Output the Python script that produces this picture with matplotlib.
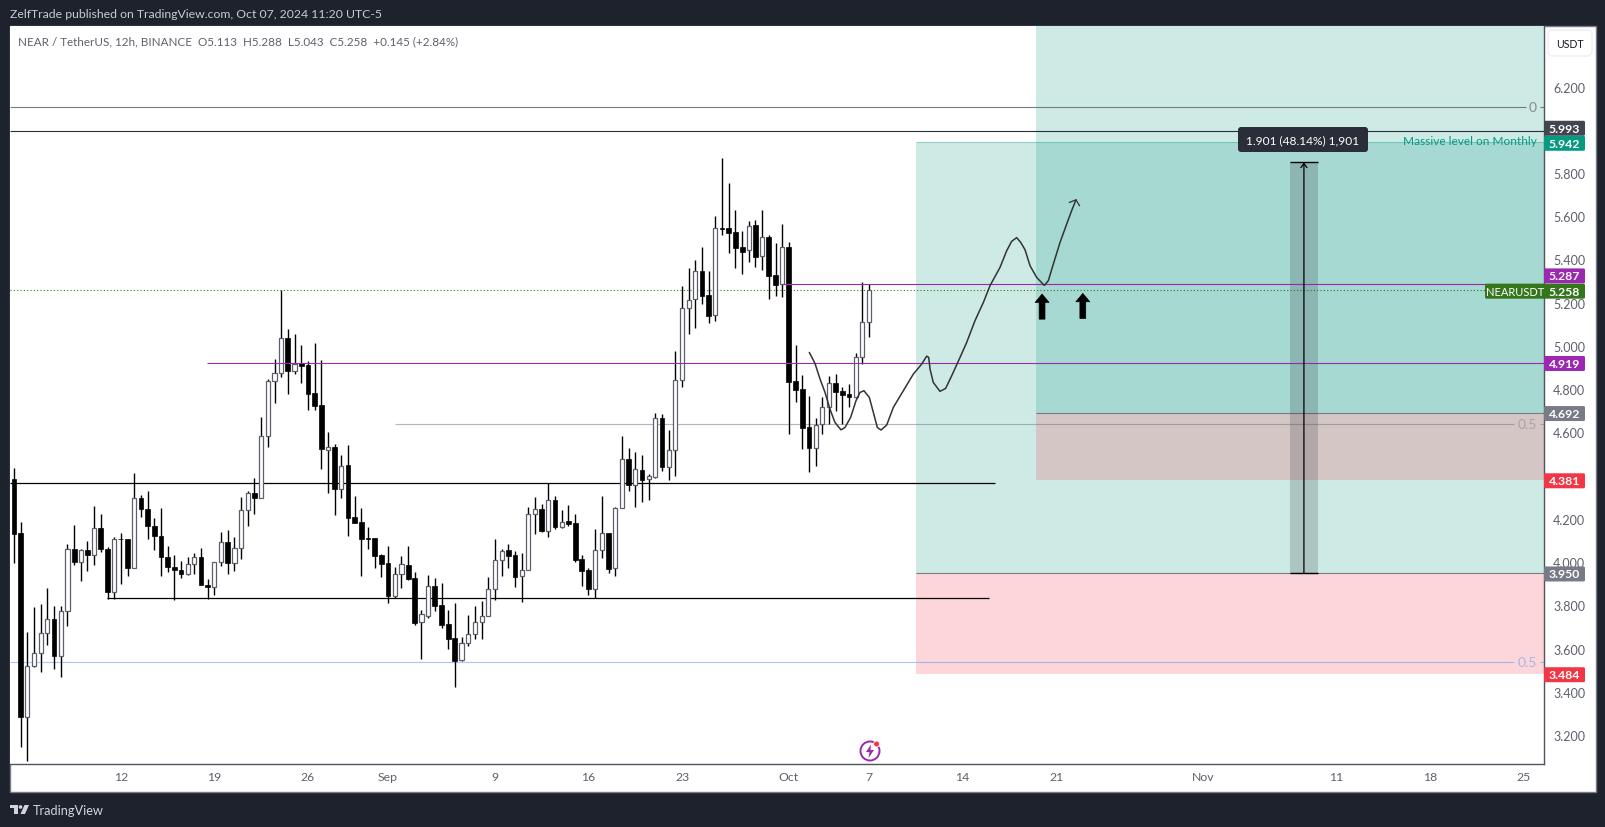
"""NEAR/USDT 12h candles with position boxes and levels, TradingView look."""
import matplotlib
matplotlib.use("Agg")
import matplotlib.pyplot as plt
from matplotlib.patches import Rectangle, FancyBboxPatch, Ellipse, Polygon

plt.rcParams["font.family"] = ["Lato", "DejaVu Sans"]

# 12h bars, first bar = Aug 4 00:00, last = Oct 7 00:00
OPENS = [4.386, 4.133, 3.285, 3.521, 3.578, 3.674, 3.735, 3.567, 3.773, 4.063, 4.003, 4.054, 4.035, 4.160, 4.063, 3.863,
         4.109, 4.107, 3.971, 4.299, 4.248, 4.169, 4.122, 4.025, 3.978, 3.963, 3.946, 3.990, 4.022, 3.895, 3.886, 3.999,
         4.092, 3.997, 4.067, 4.243, 4.322, 4.297, 4.584, 4.836, 4.873, 5.037, 4.886, 4.921, 4.912, 4.781, 4.727, 4.520,
         4.531, 4.340, 4.449, 4.207, 4.184, 4.110, 4.111, 4.033, 3.994, 3.845, 3.943, 3.985, 3.925, 3.724, 3.752, 3.888,
         3.801, 3.712, 3.647, 3.547, 3.624, 3.666, 3.724, 3.752, 3.874, 4.011, 4.054, 4.031, 3.937, 3.965, 4.221, 4.244,
         4.145, 4.286, 4.164, 4.190, 4.181, 4.013, 3.963, 3.877, 4.054, 4.135, 3.971, 4.249, 4.475, 4.358, 4.424, 4.383,
         4.395, 4.665, 4.441, 4.520, 4.841, 5.174, 5.215, 5.345, 5.234, 5.141, 5.544, 5.544, 5.525, 5.456, 5.442, 5.558,
         5.414, 5.502, 5.328, 5.285, 5.460, 4.836, 4.799, 4.623, 4.529, 4.639, 4.716, 4.827, 4.790, 4.777, 4.765, 4.947,
         5.113]
HIGHS = [4.437, 4.188, 3.676, 3.791, 3.807, 3.880, 3.799, 3.795, 4.086, 4.171, 4.063, 4.097, 4.260, 4.222, 4.069, 4.116,
         4.135, 4.109, 4.412, 4.309, 4.329, 4.203, 4.250, 4.075, 4.032, 4.005, 4.023, 4.042, 4.065, 3.922, 4.003, 4.139,
         4.148, 4.116, 4.301, 4.327, 4.388, 4.671, 4.849, 4.938, 5.258, 5.079, 5.054, 5.004, 4.929, 5.013, 4.935, 4.600,
         4.546, 4.495, 4.542, 4.306, 4.250, 4.162, 4.114, 4.037, 4.074, 3.977, 4.028, 4.074, 3.953, 3.777, 3.940, 3.925,
         3.903, 3.777, 3.811, 3.652, 3.754, 3.795, 3.820, 3.931, 4.107, 4.060, 4.082, 4.050, 4.042, 4.253, 4.301, 4.269,
         4.364, 4.306, 4.241, 4.264, 4.222, 4.033, 3.973, 4.153, 4.304, 4.135, 4.253, 4.582, 4.528, 4.509, 4.494, 4.406,
         4.688, 4.683, 4.611, 4.975, 5.277, 5.359, 5.396, 5.456, 5.345, 5.599, 5.869, 5.753, 5.629, 5.534, 5.576, 5.582,
         5.629, 5.511, 5.476, 5.564, 5.481, 5.004, 4.864, 4.768, 4.665, 4.762, 4.859, 4.868, 4.810, 4.822, 4.966, 5.294,
         5.288]
LOWS = [3.994, 3.144, 3.078, 3.516, 3.493, 3.616, 3.508, 3.470, 3.707, 3.988, 3.914, 3.961, 3.988, 4.046, 3.831, 3.831,
        3.899, 3.937, 3.971, 4.210, 4.109, 4.054, 3.937, 3.956, 3.827, 3.927, 3.942, 3.946, 3.895, 3.831, 3.850, 3.984,
        3.946, 3.961, 4.016, 4.169, 4.224, 4.301, 4.534, 4.737, 4.858, 4.779, 4.871, 4.828, 4.705, 4.705, 4.431, 4.321,
        4.219, 4.296, 4.121, 4.181, 3.937, 4.060, 3.974, 3.933, 3.812, 3.834, 3.882, 3.919, 3.710, 3.553, 3.743, 3.774,
        3.697, 3.599, 3.424, 3.544, 3.612, 3.644, 3.644, 3.752, 3.825, 3.937, 3.974, 3.886, 3.817, 3.965, 4.131, 4.141,
        4.118, 4.155, 4.158, 4.168, 4.002, 3.889, 3.848, 3.832, 4.019, 3.950, 3.937, 4.249, 4.331, 4.256, 4.279, 4.289,
        4.387, 4.423, 4.381, 4.400, 4.810, 5.055, 5.083, 5.194, 5.107, 5.115, 5.514, 5.430, 5.360, 5.332, 5.388, 5.365,
        5.351, 5.217, 5.231, 5.226, 4.592, 4.740, 4.523, 4.418, 4.444, 4.592, 4.639, 4.699, 4.639, 4.717, 4.760, 4.915,
        5.043]
CLOSES = [4.131, 3.285, 3.521, 3.578, 3.674, 3.735, 3.567, 3.773, 4.063, 4.003, 4.054, 4.035, 4.160, 4.063, 3.863, 4.109,
          4.107, 3.971, 4.299, 4.248, 4.169, 4.122, 4.025, 3.978, 3.963, 3.946, 3.990, 4.022, 3.895, 3.886, 3.999, 4.092,
          3.997, 4.067, 4.243, 4.322, 4.297, 4.584, 4.836, 4.873, 5.037, 4.886, 4.915, 4.909, 4.779, 4.724, 4.525, 4.531,
          4.340, 4.447, 4.205, 4.182, 4.108, 4.108, 4.030, 3.993, 3.845, 3.943, 3.990, 3.922, 3.720, 3.758, 3.888, 3.798,
          3.710, 3.646, 3.544, 3.624, 3.666, 3.724, 3.752, 3.874, 4.011, 4.053, 4.030, 3.933, 3.965, 4.221, 4.244, 4.145,
          4.286, 4.162, 4.188, 4.178, 4.010, 3.960, 3.877, 4.054, 4.133, 3.968, 4.249, 4.475, 4.358, 4.429, 4.381, 4.397,
          4.665, 4.441, 4.520, 4.841, 5.174, 5.211, 5.345, 5.232, 5.140, 5.544, 5.543, 5.524, 5.454, 5.436, 5.556, 5.413,
          5.502, 5.325, 5.283, 5.460, 4.834, 4.797, 4.622, 4.529, 4.636, 4.716, 4.827, 4.788, 4.773, 4.764, 4.947, 5.109,
          5.258]

# hand drawn projection (bar index, price)
PATH_X = [119.06, 119.91, 120.66, 121.41, 122.15, 122.90, 123.80, 124.40, 125.25, 126.05, 126.65, 127.24, 128.04, 128.64,
          129.24, 129.79, 130.64, 131.64, 133.13, 134.63, 135.88, 136.63, 136.93, 137.13, 137.62, 138.62, 139.47, 140.37,
          141.62, 142.61, 143.86, 145.11, 146.11, 147.60, 148.60, 149.35, 150.10, 150.70, 151.35, 152.10, 153.09, 154.24,
          154.84, 155.59, 156.59, 157.59, 158.33, 158.98]
PATH_Y = [4.970, 4.919, 4.847, 4.785, 4.708, 4.646, 4.612, 4.623, 4.670, 4.747, 4.785, 4.793, 4.762, 4.693,
          4.623, 4.611, 4.634, 4.716, 4.793, 4.870, 4.916, 4.953, 4.947, 4.893, 4.831, 4.790, 4.804, 4.862,
          4.947, 5.016, 5.117, 5.201, 5.279, 5.363, 5.440, 5.484, 5.501, 5.479, 5.445, 5.371, 5.317, 5.280,
          5.302, 5.379, 5.479, 5.564, 5.626, 5.676]

TICK_BARS = [16, 30, 44, 56, 72, 86, 100, 116, 128, 142, 156, 178, 198, 212, 226]
TICK_LABELS = ["12", "19", "26", "Sep", "9", "16", "23", "Oct", "7", "14", "21", "Nov", "11", "18", "25"]
PRICE_TICKS = [3.2, 3.4, 3.6, 3.8, 4.0, 4.2, 4.6, 4.8, 5.0, 5.2, 5.4, 5.6, 5.8, 6.2]

# price tags: value, colour, shift in px where TradingView stacks them
TAG_PRICES = [5.993, 5.942, 5.287, 5.258, 4.919, 4.692, 4.381, 3.950, 3.484]
TAG_COLORS = ["#434651", "#089981", "#9c27b0", "#33761c", "#9c27b0", "#787b86", "#f23645", "#787b86", "#f23645"]
TAG_SHIFT = [-3, 1, -8, 1, 0, 1, 1, 1, 1]

W, H = 1606, 828
DARK = "#1e222d"
GREEN = "#089981"
RED = "#f23645"
AXIS_TXT = "#5d606b"

fig = plt.figure(figsize=(W / 100, H / 100), dpi=100, facecolor=DARK)


def pixel_axes(zorder):
    a = fig.add_axes([0, 0, 1, 1], zorder=zorder)
    a.set_xlim(0, W); a.set_ylim(H, 0); a.axis("off")
    a.patch.set_alpha(0)
    return a


bg = pixel_axes(-1)
bg.add_patch(Rectangle((10, 27), 1586, 766, fc="white", ec="#787b86", lw=1))

ax = fig.add_axes([10 / W, 1 - 765 / H, 1534 / W, 738 / H], zorder=1)
ax.set_xlim(-0.6, 229.04)
ax.set_ylim(3.0664, 6.4799)
for s in ["top", "left"]:
    ax.spines[s].set_visible(False)
for s in ["right", "bottom"]:
    ax.spines[s].set_color("#50535e"); ax.spines[s].set_linewidth(1)
ax.yaxis.tick_right()
ax.set_yticks(PRICE_TICKS, [f"{p:.3f}" for p in PRICE_TICKS])
ax.set_xticks(TICK_BARS, TICK_LABELS)
ax.tick_params(axis="y", length=0, pad=6.5, labelsize=9, labelcolor=AXIS_TXT)
ax.tick_params(axis="x", length=0, pad=5, labelsize=8.8, labelcolor=AXIS_TXT)

# position boxes
ax.add_patch(Rectangle((135, 3.95), 110, 5.942 - 3.95, fc=GREEN, alpha=0.2, ec="none", zorder=1))
ax.add_patch(Rectangle((135, 3.484), 110, 3.95 - 3.484, fc=RED, alpha=0.2, ec="none", zorder=1))
ax.add_patch(Rectangle((153, 4.692), 92, 2.5, fc=GREEN, alpha=0.2, ec="none", zorder=1))
ax.add_patch(Rectangle((153, 4.381), 92, 4.692 - 4.381, fc=RED, alpha=0.2, ec="none", zorder=1))
ax.hlines(5.942, 135, 229, color=GREEN, lw=0.8, alpha=0.3, zorder=2)
ax.hlines(3.95, 135, 229, color="#787b86", lw=0.8, zorder=2)
ax.hlines(4.692, 153, 229, color="#787b86", lw=0.8, zorder=2)

# fib levels
ax.hlines(6.104, -0.6, 226.3, color="#787b86", lw=0.8, zorder=2)
ax.hlines(6.104, 228.4, 229, color="#787b86", lw=0.8, zorder=2)
ax.text(227.35, 6.104, "0", color="#787b86", fontsize=10, ha="center", va="center", alpha=0.85)
ax.hlines(4.639, 57, 224.6, color="#787b86", lw=0.8, alpha=0.55, zorder=2)
ax.hlines(4.639, 228.4, 229, color="#787b86", lw=0.8, alpha=0.55, zorder=2)
ax.text(226.5, 4.639, "0.5", color="#787b86", fontsize=10, ha="center", va="center", alpha=0.45)
ax.hlines(3.538, -0.6, 224.6, color="#5b9cf6", lw=0.8, alpha=0.55, zorder=2)
ax.hlines(3.538, 228.4, 229, color="#5b9cf6", lw=0.8, alpha=0.55, zorder=2)
ax.text(226.5, 3.538, "0.5", color="#5b9cf6", fontsize=10, ha="center", va="center", alpha=0.55)

# levels
ax.hlines(5.993, -0.6, 229, color="#2a2e39", lw=0.8, zorder=2)
ax.hlines(4.364, -0.6, 146.9, color="black", lw=0.9, zorder=2)
ax.hlines(3.833, 13.9, 146, color="black", lw=0.9, zorder=2)
ax.hlines(4.919, 28.85, 229, color="#9c27b0", lw=0.8, zorder=4)
ax.hlines(5.287, 114.9, 229, color="#9c27b0", lw=0.8, zorder=4)
ax.hlines(5.258, -0.6, 229, color="#33761c", lw=0.8, ls=(0, (1, 2)), zorder=2)
ax.text(228, 5.95, "Massive level on Monthly", color=GREEN, fontsize=8.6, ha="right", va="center")

# candles
for i, (o, h, l, c) in enumerate(zip(OPENS, HIGHS, LOWS, CLOSES)):
    ax.vlines(i, l, h, color="black", lw=1, zorder=3)
    if c >= o:
        ax.bar(i, c - o, 0.62, o, color="white", edgecolor="#5d606b", lw=0.9, zorder=3.2)
    else:
        ax.bar(i, o - c, 0.72, c, color="black", edgecolor="black", lw=0.5, zorder=3.2)

# hand drawn path with arrow head
ax.plot(PATH_X, PATH_Y, color="#333333", lw=1.1, solid_capstyle="round", zorder=5)
ax.plot([158.0, PATH_X[-1], 159.5], [5.664, PATH_Y[-1], 5.649], color="#333333", lw=0.9, zorder=5)

# two thick up arrows
for bar, base, tip in [(153.9, 5.124, 5.240), (160.0, 5.127, 5.243)]:
    ax.annotate("", xy=(bar, tip), xytext=(bar, base), zorder=5,
                arrowprops=dict(arrowstyle="simple,head_length=0.6,head_width=1.0,tail_width=0.42",
                                fc="black", ec="black", lw=0.5, shrinkA=0, shrinkB=0))

# price range ruler
ax.add_patch(Rectangle((191, 3.95), 4.2, 5.849 - 3.95, fc="#2a2e39", alpha=0.2, ec="none", zorder=3))
ax.hlines([3.95, 5.849], 191, 195.2, color="black", lw=1, zorder=5)
ax.annotate("", xy=(193.1, 5.849), xytext=(193.1, 3.95), zorder=5,
            arrowprops=dict(arrowstyle="->,head_length=0.3,head_width=0.22", color="black", lw=0.9, shrinkA=0, shrinkB=0))

# chrome on top, pixel coordinates
ov = pixel_axes(5)
ov.text(10, 15, "ZelfTrade published on TradingView.com, Oct 07, 2024 11:20 UTC-5", color="#c8cad2", fontsize=8.8, va="center")
ov.text(18, 42, "NEAR / TetherUS, 12h, BINANCE  O5.113  H5.288  L5.043  C5.258  +0.145 (+2.84%)", color="#5d606b",
        fontsize=8.4, va="center")
ov.add_patch(FancyBboxPatch((1550, 33), 40, 22, boxstyle="round,pad=2,rounding_size=5", fc="white", ec="#f0f0f6", lw=1.2))
ov.text(1570, 44, "USDT", color="#131722", fontsize=7.6, ha="center", va="center")

# tooltip of the ruler
ov.add_patch(FancyBboxPatch((1240, 130), 126, 21, boxstyle="round,pad=2,rounding_size=3", fc="#2a2e39", ec="none"))
ov.text(1303, 140.5, "1.901 (48.14%) 1,901", color="white", fontsize=8.6, ha="center", va="center")

# tags on the price axis
fig.canvas.draw()
to_px = lambda price: H - ax.transData.transform((0, price))[1]
for price, col, dy in zip(TAG_PRICES, TAG_COLORS, TAG_SHIFT):
    y = to_px(price) + dy
    ov.add_patch(FancyBboxPatch((1545, y - 6.5), 39, 13, boxstyle="round,pad=1,rounding_size=1.5", fc=col, ec="none"))
    ov.text(1564.5, y, f"{price:.3f}", color="white", fontsize=8.8, fontweight="bold", ha="center", va="center")
y = to_px(5.258) + 1
ov.add_patch(FancyBboxPatch((1486, y - 6.5), 58, 13, boxstyle="round,pad=1,rounding_size=1.5", fc="#33761c", ec="none"))
ov.text(1515, y, "NEARUSDT", color="white", fontsize=8, ha="center", va="center")

# bolt icon
ov.add_patch(Ellipse((870, 752), 19, 19, fc="white", ec="#9c27b0", lw=1.4))
ov.add_patch(Polygon([(871, 745.5), (866, 753), (869.5, 753), (868.5, 759), (874, 751), (870.5, 751)], fc="#9c27b0", ec="none"))
ov.add_patch(Ellipse((876.6, 745), 6, 6, fc="#f23645", ec="white", lw=0.6))

# TradingView logo
ov.add_patch(Polygon([(10, 806), (18, 806), (18, 815), (14, 815), (14, 809.5), (10, 809.5)], fc="#d1d4dc", ec="none"))
ov.add_patch(Ellipse((20.5, 808), 3.6, 3.6, fc="#d1d4dc", ec="none"))
ov.add_patch(Polygon([(24.5, 806), (29, 806), (25, 815), (20.5, 815)], fc="#d1d4dc", ec="none"))
ov.text(33, 811, "TradingView", color="#d1d4dc", fontsize=9.2, va="center")

fig.savefig("out.png", dpi=100)
